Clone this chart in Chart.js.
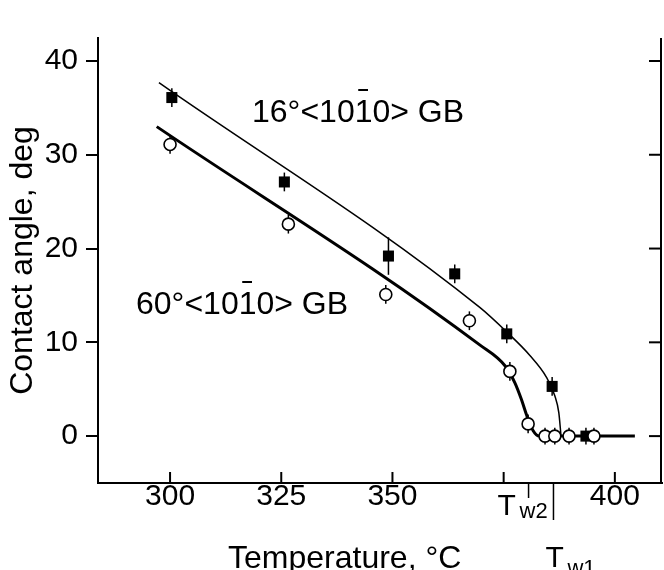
<!DOCTYPE html>
<html><head><meta charset="utf-8">
<script src="https://cdn.jsdelivr.net/npm/chart.js@4.4.1/dist/chart.umd.min.js"></script>
<style>html,body{margin:0;padding:0;background:#fff}#wrap{width:664px;height:570px}</style>
</head><body><div id="wrap"><canvas id="c" width="664" height="570"></canvas></div>
<script>
// ---- data ----
const temp16  = [300.4, 325.7, 349.1, 364.0, 375.7, 385.9, 393.5];
const angle16 = [36.1, 27.1, 19.2, 17.3, 10.9, 5.3, 0];
const err16   = [1.0, 1.0, 2.0, 1.0, 1.0, 1.0, 0.9];

const temp60  = [300.0, 326.6, 348.5, 367.3, 376.4, 380.5, 384.3, 386.5, 389.7, 395.3];
const angle60 = [31.1, 22.6, 15.1, 12.3, 6.9, 1.3, 0, 0, 0, 0];
const err60   = [1.0, 1.0, 1.0, 1.0, 1.0, 1.0, 0.9, 0.9, 0.9, 0.9];

const curve16T = [297.5, 369.7, 375.7, 380.9, 384.6, 386.5, 387.4, 387.9];
const curve16A = [37.7, 13.7, 11.1, 8.6, 6.3, 4.3, 2.5, 0];
const curve60T = [297.0, 369.7, 375.3, 377.5, 379.0, 380.2, 381.6, 383.0, 404.5];
const curve60A = [33.0, 9.7, 7.5, 5.7, 3.9, 2.2, 0.6, 0, 0];

const xTicks = [300, 325, 350, 375, 400];
const xTickLabels = ['300', '325', '350', '', '400'];
const yTicks = [0, 10, 20, 30, 40];
const tw2 = 380.6, tw1 = 386.2;

const FONT = '"Liberation Sans", Arial, Helvetica, sans-serif';
const pts = (xs, ys) => xs.map((x, i) => ({x: x, y: ys[i]}));

const decor = {
  id: 'decor',
  beforeDatasetsDraw(chart) {
    const ctx = chart.ctx, xs = chart.scales.x, ys = chart.scales.y;
    ctx.save();
    ctx.strokeStyle = '#000'; ctx.lineWidth = 1.5;
    const bars = (T, A, E) => T.forEach((t, i) => {
      const px = xs.getPixelForValue(t);
      ctx.beginPath();
      ctx.moveTo(px, ys.getPixelForValue(A[i] + E[i]));
      ctx.lineTo(px, ys.getPixelForValue(A[i] - E[i]));
      ctx.stroke();
    });
    bars(temp16, angle16, err16);
    bars(temp60, angle60, err60);
    ctx.restore();
  },
  afterDraw(chart) {
    const ctx = chart.ctx, a = chart.chartArea, xs = chart.scales.x, ys = chart.scales.y;
    ctx.save();
    ctx.strokeStyle = '#000'; ctx.fillStyle = '#000';
    // right axis with inward ticks
    ctx.lineWidth = 2;
    ctx.beginPath(); ctx.moveTo(a.right - 1, a.top); ctx.lineTo(a.right - 1, a.bottom); ctx.stroke();
    yTicks.forEach(v => {
      const py = ys.getPixelForValue(v);
      ctx.beginPath(); ctx.moveTo(a.right - 1, py); ctx.lineTo(a.right - 13, py); ctx.stroke();
    });
    // x ticks pointing inward
    xTicks.forEach(v => {
      const px = xs.getPixelForValue(v);
      ctx.beginPath(); ctx.moveTo(px, a.bottom); ctx.lineTo(px, a.bottom - 11); ctx.stroke();
    });
    // Tw markers
    ctx.lineWidth = 1.5;
    let p2 = xs.getPixelForValue(tw2), p1 = xs.getPixelForValue(tw1);
    ctx.beginPath(); ctx.moveTo(p2, a.bottom); ctx.lineTo(p2, a.bottom + 15); ctx.stroke();
    ctx.beginPath(); ctx.moveTo(p1, a.bottom); ctx.lineTo(p1, a.bottom + 37); ctx.stroke();
    ctx.textAlign = 'left'; ctx.textBaseline = 'alphabetic';
    ctx.font = '30px ' + FONT;
    ctx.fillText('T', p2 - 31, 515);
    ctx.fillText('T', p1 - 8, 567);
    ctx.font = '22px ' + FONT;
    ctx.fillText('w2', p2 - 9, 518);
    ctx.fillText('w1', p1 + 14, 575);
    // x title
    ctx.font = '32px ' + FONT;
    ctx.fillText('Temperature, °C', 228, 568);
    // annotations with overbar
    const miller = (prefix, left, base) => {
      const head = prefix + '°<10';
      const s = head + '10> GB';
      ctx.font = '32px ' + FONT;
      ctx.fillText(s, left, base);
      const w0 = ctx.measureText(head).width, w1 = ctx.measureText('1').width;
      ctx.lineWidth = 2;
      ctx.beginPath();
      ctx.moveTo(left + w0 + w1 * 0.2, base - 32);
      ctx.lineTo(left + w0 + w1 * 0.75, base - 32);
      ctx.stroke();
    };
    miller('16', 252, 122);
    miller('60', 136, 314);
    ctx.restore();
  }
};

new Chart(document.getElementById('c'), {
  type: 'scatter',
  data: {
    datasets: [
      { type: 'line', order: 4, data: pts(curve16T, curve16A), borderColor: '#000', borderWidth: 1.5,
        pointRadius: 0, cubicInterpolationMode: 'monotone', fill: false, showLine: true },
      { type: 'line', order: 3, data: pts(curve60T, curve60A), borderColor: '#000', borderWidth: 3,
        pointRadius: 0, cubicInterpolationMode: 'monotone', fill: false, showLine: true },
      { order: 2, data: pts(temp16, angle16), pointStyle: 'rect', pointRadius: 7.8,
        backgroundColor: '#000', borderColor: '#000', borderWidth: 0, showLine: false },
      { order: 1, data: pts(temp60, angle60), pointStyle: 'circle', pointRadius: 6,
        backgroundColor: '#fff', borderColor: '#000', borderWidth: 1.6, showLine: false }
    ]
  },
  options: {
    responsive: false, animation: false, devicePixelRatio: 1,
    layout: { autoPadding: false, padding: { top: 38, right: 2, left: 0, bottom: 0 } },
    plugins: { legend: { display: false }, tooltip: { enabled: false } },
    scales: {
      x: {
        type: 'linear', position: 'bottom', min: 283.8, max: 410.6,
        afterBuildTicks: s => { s.ticks = xTicks.map(v => ({ value: v })); },
        afterFit: s => { s.height = 87; s.paddingLeft = 0; s.paddingRight = 0; },
        ticks: { callback: v => xTickLabels[xTicks.indexOf(v)], color: '#000',
                 font: { size: 30, family: FONT }, padding: -4, maxRotation: 0, autoSkip: false },
        grid: { display: false, drawTicks: false },
        border: { display: true, color: '#000', width: 2 }
      },
      y: {
        type: 'linear', position: 'left', min: -5, max: 42.45,
        afterBuildTicks: s => { s.ticks = yTicks.map(v => ({ value: v })); },
        afterFit: s => { s.width = 98; s.paddingTop = 0; s.paddingBottom = 0; },
        ticks: { color: '#000', font: { size: 30, family: FONT }, padding: 8, autoSkip: false },
        grid: { display: true, drawOnChartArea: false, drawTicks: true, tickLength: 12,
                color: '#000', lineWidth: 2 },
        border: { display: true, color: '#000', width: 2 },
        title: { display: true, text: 'Contact angle, deg', color: '#000',
                 font: { size: 32, family: FONT }, padding: { top: 4, bottom: 0 } }
      }
    }
  },
  plugins: [decor]
});
</script>
</body></html>
